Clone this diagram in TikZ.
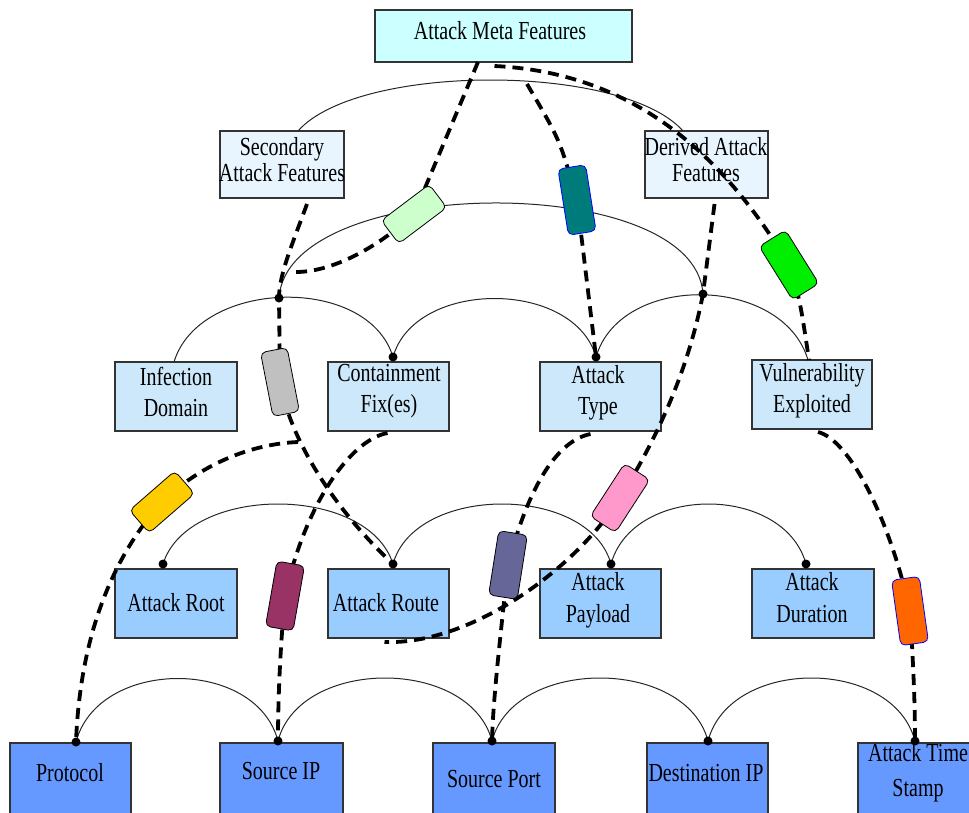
\documentclass[tikz,border=0pt]{standalone}
\usepackage{fontspec}
\usepackage{graphicx}
\setmainfont{Liberation Serif}
\usetikzlibrary{calc}
\newcommand\tx[1]{\scalebox{1}[1.3]{#1}}
\definecolor{metafill}{HTML}{CCFFFF}
\definecolor{secfill}{HTML}{E8F5FE}
\definecolor{midfill}{HTML}{CCE8FA}
\definecolor{lowfill}{HTML}{99CCFF}
\definecolor{basefill}{HTML}{6699FF}
\definecolor{boxline}{HTML}{333333}
\definecolor{tgA}{HTML}{CCFFCC}
\definecolor{tgB}{HTML}{00EE00}
\definecolor{tgC}{HTML}{007B7B}
\definecolor{tgD}{HTML}{C0C0C0}
\definecolor{tgE}{HTML}{FF99CC}
\definecolor{tgF}{HTML}{666699}
\definecolor{tgG}{HTML}{993366}
\definecolor{tgH}{HTML}{FFCC00}
\definecolor{tgI}{HTML}{FF6600}
\begin{document}
\begin{tikzpicture}[x=1pt,y=-1pt,
  box/.style={draw=boxline,line width=1.3pt,inner sep=0pt,outer sep=0pt},
  lbl/.style={inner sep=0pt,align=center,font=\fontsize{20}{24}\selectfont},
  lbltwo/.style={inner sep=0pt,align=center,font=\fontsize{20}{#1}\selectfont},
  tag/.style={draw=black,line width=0.8pt,rounded corners=5pt,inner sep=0pt},
  dl/.style={line width=3.8pt,dash pattern=on 11pt off 7pt},
  arcl/.style={line width=1pt,black!85},
  dot/.style={circle,fill=black,inner sep=0pt,minimum size=9pt}]
\useasboundingbox (0,0) rectangle (969,812);
\clip (0,0) rectangle (969,812);

% ---------- feature boxes ----------
\node[box,fill=metafill,minimum width=257pt,minimum height=52pt] (meta) at (503.5,36) {};
\node[lbl] (meta-t) at (500,31) {\tx{Attack Meta Features}};

\node[box,fill=secfill,minimum width=124pt,minimum height=67pt] (sec) at (282,164.5) {};
\node[lbltwo=26] (sec-t) at (282,160) {\tx{Secondary}\\\tx{Attack Features}};
\node[box,fill=secfill,minimum width=123pt,minimum height=67pt] (der) at (706.5,164.5) {};
\node[lbltwo=26] (der-t) at (706,160) {\tx{Derived Attack}\\\tx{Features}};

\node[box,fill=midfill,minimum width=122pt,minimum height=69pt] (inf) at (176,396.5) {};
\node[lbltwo=31] (inf-t) at (176,391.5) {\tx{Infection}\\\tx{Domain}};
\node[box,fill=midfill,minimum width=121pt,minimum height=69pt] (cont) at (388.5,396.5) {};
\node[lbltwo=31] (cont-t) at (389,391.5) {\tx{Containment}\\\tx{Fix(es)}};
\node[box,fill=midfill,minimum width=121pt,minimum height=69pt] (atype) at (600.5,396.5) {};
\node[lbltwo=31] (atype-t) at (598,393) {\tx{Attack}\\\tx{Type}};
\node[box,fill=midfill,minimum width=120pt,minimum height=69pt] (vuln) at (812,394.5) {};
\node[lbltwo=31] (vuln-t) at (812,391) {\tx{Vulnerability}\\\tx{Exploited}};

\node[box,fill=lowfill,minimum width=122pt,minimum height=69pt] (root) at (176,603.5) {};
\node[lbl] (root-t) at (176,603) {\tx{Attack Root}};
\node[box,fill=lowfill,minimum width=121pt,minimum height=69pt] (route) at (388.5,603.5) {};
\node[lbl] (route-t) at (386,603) {\tx{Attack Route}};
\node[box,fill=lowfill,minimum width=121pt,minimum height=69pt] (payload) at (600.5,603.5) {};
\node[lbltwo=32] (payload-t) at (598,600) {\tx{Attack}\\\tx{Payload}};
\node[box,fill=lowfill,minimum width=122pt,minimum height=69pt] (dur) at (813,603.5) {};
\node[lbltwo=32] (dur-t) at (812,598) {\tx{Attack}\\\tx{Duration}};

\node[box,fill=basefill,minimum width=121pt,minimum height=72pt] (proto) at (70.5,779) {};
\node[lbl] (proto-t) at (70,773) {\tx{Protocol}};
\node[box,fill=basefill,minimum width=123pt,minimum height=72pt] (sip) at (281.5,779) {};
\node[lbl] (sip-t) at (281,771) {\tx{Source IP}};
\node[box,fill=basefill,minimum width=122pt,minimum height=72pt] (sport) at (494,779) {};
\node[lbl] (sport-t) at (494,779) {\tx{Source Port}};
\node[box,fill=basefill,minimum width=121pt,minimum height=72pt] (dip) at (707.5,779) {};
\node[lbl] (dip-t) at (706,773) {\tx{Destination IP}};
\node[box,fill=basefill,minimum width=122pt,minimum height=72pt] (ats) at (919,779) {};
\node[lbltwo=35] (ats-t) at (918,773) {\tx{Attack Time}\\\tx{Stamp}};

% ---------- junction points ----------
\coordinate (j1) at (279,298);
\coordinate (j2) at (703,294);
\coordinate (q-sec) at (298,131);
\coordinate (q-der) at (683,131);
\coordinate (q-inf) at (174,362);
\coordinate (q-vuln) at (808,360);
\coordinate (p-cont) at (393,357);
\coordinate (p-type) at (596,357);
\coordinate (p-root) at (163,564);
\coordinate (p-route) at (393,564);
\coordinate (p-pay) at (611,564);
\coordinate (p-dur) at (806,564);
\coordinate (p-proto) at (76,742);
\coordinate (p-sip) at (278,741);
\coordinate (p-sport) at (492,741);
\coordinate (p-dip) at (708,741);
\coordinate (p-ats) at (915,741);
\coordinate (a-end) at (296,272);
\coordinate (c0) at (527,84);
\coordinate (h0) at (298,442);

% tag positions
\coordinate (g1) at (414,214);
\coordinate (g2) at (789,265);
\coordinate (g3) at (577,200);
\coordinate (g4) at (280,382);
\coordinate (g5) at (620,498);
\coordinate (g6) at (508,565);
\coordinate (g7) at (285,596);
\coordinate (g8) at (162,502);
\coordinate (g9) at (910,611);

% ---------- thin arcs ----------
\draw[arcl] (q-sec) .. controls +(60,-68) and +(-60,-68) .. (q-der);
\draw[arcl] (j1) .. controls +(8,-124) and +(-8,-124) .. (j2);
\draw[arcl] (q-inf) .. controls +(25,-83) and +(-25,-83) .. (p-cont);
\draw[arcl] (p-cont) .. controls +(22,-78) and +(-22,-78) .. (p-type);
\draw[arcl] (p-type) .. controls +(25,-85) and +(-25,-85) .. (q-vuln);
\draw[arcl] (p-root) .. controls +(25,-80) and +(-25,-80) .. (p-route);
\draw[arcl] (p-route) .. controls +(22,-80) and +(-22,-80) .. (p-pay);
\draw[arcl] (p-pay) .. controls +(22,-80) and +(-22,-80) .. (p-dur);
\draw[arcl] (p-proto) .. controls +(22,-84) and +(-22,-84) .. (p-sip);
\draw[arcl] (p-sip) .. controls +(22,-84) and +(-22,-84) .. (p-sport);
\draw[arcl] (p-sport) .. controls +(22,-84) and +(-22,-84) .. (p-dip);
\draw[arcl] (p-dip) .. controls +(22,-84) and +(-22,-84) .. (p-ats);

% ---------- dashed links ----------
\draw[dl] ($(meta.south)+(-25.5,0)$) -- (g1) .. controls (375,250) and (330,272) .. (a-end);
\draw[dl] ($(meta.south)+(-9,4)$) .. controls (620,72) and (715,140) .. (g2) .. controls (800,300) .. ($(vuln.north)+(-3,0)$);
\draw[dl] (c0) .. controls (560,140) .. (g3) -- (p-type);
\draw[dl] ($(sec.south)+(25,6)$) .. controls (292,245) and (279,275) .. (j1) -- (g4) .. controls (290,440) and (335,510) .. (p-route);
\draw[dl] ($(der.south)+(8,6)$) -- (j2) .. controls (690,360) and (665,425) .. (g5) .. controls (575,570) and (470,645) .. ($(route.south)+(-4,4)$);
\draw[dl] ($(atype.south)+(-10,3)$) .. controls (560,440) and (530,480) .. (g6) .. controls (500,640) and (493,700) .. (p-sport);
\draw[dl] ($(cont.south)+(-1,2)$) .. controls (350,440) and (305,505) .. (g7) .. controls (280,650) and (278,700) .. (p-sip);
\draw[dl] (h0) .. controls (250,444) and (200,465) .. (g8) .. controls (110,560) and (80,640) .. (p-proto);
\draw[dl] ($(vuln.south)+(6,3)$) .. controls (850,440) and (890,520) .. (g9) .. controls (913,660) and (915,700) .. (p-ats);

% ---------- link tags ----------
\node[tag,fill=tgA,minimum width=60pt,minimum height=29pt,rotate=37] (t1) at (g1) {};
\node[tag,fill=tgB,minimum width=63pt,minimum height=31pt,rotate=122] (t2) at (g2) {};
\node[tag,fill=tgC,draw=blue,minimum width=67pt,minimum height=28pt,rotate=99] (t3) at (g3) {};
\node[tag,fill=tgD,minimum width=65pt,minimum height=27pt,rotate=101] (t4) at (g4) {};
\node[tag,fill=tgE,minimum width=63pt,minimum height=30pt,rotate=57] (t5) at (g5) {};
\node[tag,fill=tgF,minimum width=65pt,minimum height=29pt,rotate=81] (t6) at (g6) {};
\node[tag,fill=tgG,minimum width=66pt,minimum height=28pt,rotate=80] (t7) at (g7) {};
\node[tag,fill=tgH,minimum width=60pt,minimum height=30pt,rotate=41] (t8) at (g8) {};
\node[tag,fill=tgI,draw=blue,minimum width=66pt,minimum height=28pt,rotate=98] (t9) at (g9) {};

% ---------- junction dots ----------
\foreach \p in {j1,j2,p-cont,p-type,p-root,p-route,p-pay,p-dur,p-proto,p-sip,p-sport,p-dip,p-ats}
  \node[dot] at (\p) {};
\end{tikzpicture}
\end{document}
